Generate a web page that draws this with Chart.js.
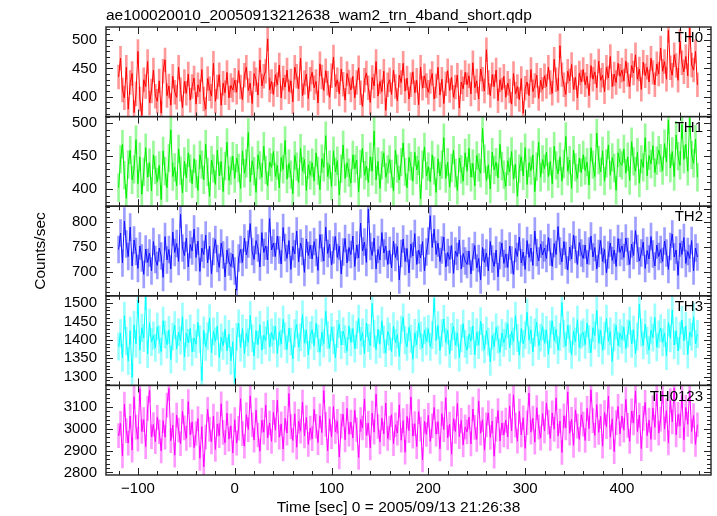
<!DOCTYPE html>
<html>
<head>
<meta charset="utf-8">
<script src="https://cdn.jsdelivr.net/npm/chart.js@4"></script>
<style>
  body { margin: 0; background: #fff; }
</style>
</head>
<body>
<canvas id="lc" width="717" height="516"></canvas>
<script>
// light curve, one band per panel (2 s bins starting at -120 s)
const bandNames = ["TH0", "TH1", "TH2", "TH3", "TH0123"];
const binStart = -120;
const binSize = 2;

const th0 = [
  435, 468, 412, 398, 452, 378, 425, 441, 372, 405, 480, 396, 367, 430, 418, 462, 389, 410, 447, 401,
  392, 428, 371, 445, 465, 402, 419, 385, 436, 408, 399, 452, 413, 381, 427, 406, 440, 394, 418, 433,
  387, 421, 409, 448, 396, 378, 432, 414, 401, 459, 392, 417, 439, 385, 424, 407, 443, 398, 420, 412,
  429, 408, 446, 417, 395, 438, 452, 411, 424, 388, 441, 430, 403, 465, 419, 436, 445, 502, 412, 427,
  404, 439, 421, 456, 398, 433, 417, 447, 409, 428, 391, 452, 436, 414, 468, 402, 425, 440, 397, 431,
  443, 416, 427, 389, 458, 435, 411, 446, 424, 399, 437, 470, 418, 430, 405, 449, 422, 394, 441, 426,
  412, 436, 398, 425, 451, 407, 383, 429, 442, 416, 390, 434, 419, 462, 401, 427, 409, 445, 376, 421,
  430, 404, 447, 418, 393, 438, 425, 459, 410, 433, 396, 421, 444, 407, 429, 386, 452, 415, 437, 420,
  408, 427, 441, 396, 419, 452, 403, 431, 388, 423, 446, 411, 434, 399, 417, 438, 380, 426, 414, 443,
  421, 437, 405, 460, 416, 428, 396, 449, 431, 410, 483, 425, 402, 439, 418, 447, 393, 430, 412, 436,
  399, 424, 410, 387, 441, 405, 418, 395, 432, 371, 415, 426, 402, 448, 409, 420, 438, 397, 429, 413,
  437, 418, 452, 425, 406, 466, 430, 411, 490, 439, 421, 404, 445, 428, 457, 413, 434, 398, 442, 426,
  448, 421, 436, 402, 455, 431, 444, 416, 463, 429, 438, 409, 452, 433, 471, 418, 440, 425, 459, 436,
  447, 428, 463, 439, 418, 455, 442, 474, 431, 449, 413, 461, 437, 452, 426, 468, 443, 421, 458, 440,
  486, 445, 462, 431, 517, 451, 438, 474, 455, 429, 498, 460, 444, 471, 437, 521, 456, 447, 480, 421
];
const th1 = [
  402, 445, 468, 421, 386, 437, 459, 414, 430, 475, 408, 449, 392, 426, 463, 418, 440, 397, 452, 429,
  411, 436, 384, 458, 427, 402, 447, 490, 419, 433, 405, 461, 428, 394, 442, 417, 455, 431, 408, 446,
  423, 398, 452, 437, 414, 468, 426, 389, 444, 431, 407, 459, 420, 442, 396, 435, 471, 413, 428, 450,
  416, 447, 432, 401, 458, 424, 439, 486, 411, 443, 427, 395, 452, 436, 418, 465, 429, 405, 441, 433,
  457, 419, 436, 402, 448, 430, 474, 415, 439, 422, 393, 451, 434, 410, 462, 427, 445, 398, 437, 421,
  440, 412, 455, 428, 399, 446, 433, 481, 419, 437, 404, 458, 426, 443, 391, 431, 467, 416, 440, 425,
  409, 452, 431, 444, 396, 438, 462, 421, 435, 410, 449, 427, 488, 414, 442, 401, 436, 455, 418, 430,
  445, 423, 397, 459, 431, 414, 441, 470, 426, 402, 448, 435, 412, 456, 429, 443, 385, 437, 464, 420,
  434, 411, 452, 428, 395, 446, 420, 437, 478, 416, 441, 403, 432, 459, 424, 398, 447, 430, 412, 455,
  427, 462, 418, 439, 405, 451, 433, 424, 492, 446, 413, 437, 400, 456, 429, 441, 417, 468, 435, 422,
  404, 443, 426, 457, 415, 438, 389, 431, 449, 420, 463, 407, 440, 428, 452, 396, 434, 471, 418, 445,
  431, 456, 419, 442, 408, 465, 436, 423, 449, 412, 438, 480, 427, 444, 401, 459, 433, 416, 447, 425,
  452, 428, 441, 406, 463, 437, 419, 485, 444, 426, 458, 412, 439, 467, 421, 448, 432, 398, 455, 440,
  436, 461, 424, 449, 413, 472, 442, 427, 456, 409, 445, 433, 478, 420, 451, 438, 466, 425, 443, 459,
  447, 428, 469, 441, 505, 432, 457, 419, 482, 450, 436, 498, 445, 468, 427, 508, 452, 439, 476, 418
];
const th2 = [
  745, 778, 718, 802, 756, 731, 790, 712, 764, 741, 707, 752, 728, 695, 746, 719, 738, 702, 761, 725,
  713, 748, 732, 689, 771, 724, 745, 706, 780, 739, 757, 721, 816, 748, 733, 768, 710, 755, 742, 786,
  729, 762, 701, 748, 735, 774, 718, 752, 696, 741, 765, 727, 709, 758, 734, 690, 744, 720, 711, 736,
  702, 663, 728, 745, 719, 768, 734, 756, 797, 741, 725, 763, 748, 710, 779, 739, 752, 724, 807, 744,
  758, 731, 772, 744, 716, 789, 749, 727, 763, 705, 751, 736, 782, 720, 758, 741, 699, 766, 733, 754,
  726, 761, 739, 703, 775, 748, 722, 790, 737, 756, 714, 744, 771, 729, 752, 696, 740, 767, 718, 749,
  735, 772, 711, 754, 728, 798, 742, 760, 719, 826, 751, 733, 768, 706, 745, 724, 779, 738, 752, 715,
  743, 708, 762, 729, 751, 684, 737, 766, 721, 747, 698, 756, 732, 777, 715, 744, 728, 761, 702, 740,
  762, 813, 749, 786, 735, 758, 721, 744, 770, 710, 739, 725, 753, 697, 742, 731, 764, 706, 737, 722,
  715, 742, 696, 730, 753, 708, 727, 684, 749, 719, 738, 702, 761, 726, 711, 744, 690, 733, 758, 717,
  736, 709, 752, 724, 695, 747, 731, 770, 718, 740, 705, 763, 729, 748, 713, 782, 739, 722, 756, 734,
  748, 727, 769, 740, 711, 757, 735, 791, 742, 720, 761, 733, 704, 750, 726, 774, 745, 715, 759, 738,
  727, 754, 716, 742, 772, 730, 749, 706, 737, 763, 721, 745, 698, 734, 758, 723, 744, 711, 767, 739,
  752, 729, 768, 741, 715, 756, 733, 783, 747, 722, 738, 760, 707, 743, 726, 771, 736, 712, 754, 731,
  745, 721, 762, 738, 705, 751, 776, 730, 744, 693, 758, 735, 769, 717, 741, 727, 763, 702, 748, 730
];
const th3 = [
  1382, 1418, 1351, 1466, 1397, 1342, 1425, 1298, 1441, 1389, 1508, 1372, 1433, 1405, 1519, 1361, 1447, 1394, 1412, 1378,
  1436, 1401, 1368, 1452, 1415, 1387, 1427, 1346, 1409, 1440, 1375, 1421, 1398, 1463, 1354, 1418, 1392, 1431, 1367, 1405,
  1388, 1447, 1402, 1289, 1426, 1381, 1410, 1459, 1365, 1423, 1396, 1438, 1352, 1407, 1384, 1429, 1370, 1416, 1343, 1395,
  1284, 1408, 1445, 1379, 1431, 1362, 1419, 1393, 1467, 1404, 1356, 1425, 1387, 1441, 1372, 1413, 1398, 1453, 1380, 1420,
  1401, 1437, 1363, 1422, 1389, 1456, 1410, 1374, 1432, 1395, 1348, 1418, 1442, 1380, 1407, 1469, 1391, 1426, 1359, 1412,
  1428, 1383, 1445, 1404, 1366, 1421, 1390, 1478, 1413, 1377, 1435, 1399, 1351, 1416, 1443, 1386, 1424, 1402, 1369, 1438,
  1393, 1431, 1376, 1414, 1458, 1397, 1420, 1362, 1446, 1405, 1384, 1499, 1417, 1373, 1429, 1388, 1452, 1401, 1364, 1423,
  1409, 1368, 1437, 1392, 1415, 1355, 1428, 1461, 1399, 1381, 1434, 1403, 1347, 1419, 1387, 1445, 1412, 1378, 1426, 1396,
  1430, 1381, 1413, 1513, 1398, 1440, 1371, 1418, 1457, 1393, 1426, 1362, 1408, 1437, 1385, 1419, 1352, 1404, 1444, 1389,
  1372, 1416, 1397, 1438, 1360, 1421, 1386, 1451, 1407, 1374, 1425, 1395, 1340, 1412, 1381, 1434, 1401, 1366, 1419, 1392,
  1410, 1444, 1378, 1423, 1396, 1466, 1405, 1358, 1431, 1389, 1413, 1475, 1399, 1427, 1367, 1420, 1448, 1384, 1406, 1436,
  1391, 1427, 1361, 1415, 1452, 1398, 1429, 1372, 1408, 1502, 1417, 1383, 1440, 1403, 1359, 1424, 1395, 1455, 1379, 1414,
  1420, 1387, 1446, 1402, 1365, 1433, 1412, 1480, 1391, 1426, 1371, 1411, 1458, 1396, 1423, 1341, 1407, 1439, 1384, 1418,
  1401, 1435, 1376, 1417, 1452, 1389, 1428, 1363, 1409, 1497, 1420, 1385, 1443, 1398, 1372, 1426, 1406, 1461, 1380, 1415,
  1432, 1393, 1419, 1356, 1447, 1404, 1481, 1386, 1425, 1370, 1412, 1454, 1397, 1438, 1360, 1421, 1408, 1463, 1389, 1416
];
const th0123 = [
  2968, 3024, 2875, 3112, 2991, 2934, 3058, 2902, 3146, 3007, 2952, 3183, 2987, 3041, 2918, 3093, 3176, 2963, 3019, 2941,
  3052, 2986, 2898, 3037, 2961, 3108, 3184, 2945, 3016, 2879, 3062, 2993, 2931, 3079, 3004, 2956, 3124, 2972, 3031, 2913,
  2978, 3046, 2864, 3009, 2825, 2962, 3088, 2997, 2940, 3057, 2905, 3021, 2968, 3114, 2983, 2936, 3071, 2952, 3013, 2889,
  3041, 2934, 3002, 3137, 2977, 2920, 3064, 2996, 3150, 3018, 2948, 3085, 2971, 2897, 3039, 2984, 3108, 2958, 3026, 2942,
  3075, 2993, 3130, 2961, 3022, 2907, 3047, 2980, 3161, 3009, 2946, 3068, 2915, 3034, 2989, 3122, 2967, 3051, 2928, 3003,
  2954, 3088, 3011, 2936, 3059, 2982, 3174, 3020, 2899, 3045, 2963, 3101, 2986, 3034, 2871, 3012, 3066, 2949, 3093, 2975,
  3030, 2957, 3084, 2995, 2868, 3042, 3003, 3136, 2969, 3025, 2912, 3071, 2984, 3158, 3010, 2939, 3048, 2976, 3117, 2955,
  3003, 3064, 2931, 3018, 2980, 3109, 2947, 3037, 2892, 3056, 2991, 3145, 2966, 3023, 2918, 3078, 2998, 2857, 3033, 2974,
  3061, 2942, 3013, 3097, 2975, 3032, 2908, 3069, 2996, 3142, 2958, 3021, 2883, 3046, 2987, 3115, 2964, 3038, 2926, 3008,
  2985, 3053, 2930, 3090, 3006, 2951, 3127, 2979, 3041, 2902, 3017, 3072, 2960, 3035, 2874, 2998, 3083, 2944, 3026, 2971,
  3039, 2962, 3104, 2990, 3155, 3016, 2943, 3080, 2972, 3050, 2910, 3027, 3163, 2984, 3048, 2938, 3096, 3007, 2957, 3069,
  2989, 3118, 3030, 2955, 3072, 2997, 3141, 2966, 3035, 2891, 3059, 3004, 3168, 2979, 3043, 2924, 3086, 3012, 2951, 3064,
  3021, 2946, 3093, 3000, 3178, 3037, 2969, 3110, 2983, 3056, 2920, 3074, 3009, 3149, 2961, 3045, 2895, 3028, 3102, 2976,
  3058, 2993, 3134, 3015, 2942, 3081, 3026, 3172, 2987, 3062, 2909, 3047, 3120, 2968, 3039, 2951, 3095, 3006, 3160, 2980,
  3044, 3171, 2998, 3083, 2935, 3129, 3031, 3186, 2972, 3065, 3013, 3152, 2949, 3097, 3020, 3175, 2987, 3060, 2928, 3018
];
// 1-sigma error per band (counts/sec)
const rateErr = [21, 21, 27, 37, 55];

// axis ranges and tick labels
const yMin = [365, 374, 652, 1276, 2788];
const yMax = [523, 510, 832, 1520, 3198];
const yTicks = [
  [400, 450, 500],
  [400, 450, 500],
  [700, 750, 800],
  [1300, 1350, 1400, 1450, 1500],
  [2800, 2900, 3000, 3100]
];
const yMinor = [10, 10, 10, 10, 20];
const xMin = -133, xMax = 492;
const xTicks = [-100, 0, 100, 200, 300, 400];
const xMinor = 20;
const xTitle = "Time [sec] 0 = 2005/09/13 21:26:38";

const lineColors = ["#ff0000", "#00f000", "#1010ff", "#00ffff", "#ff00ff"];
const errColors = ["rgba(255,0,0,0.4)", "rgba(0,240,0,0.4)", "rgba(16,16,255,0.4)",
                   "rgba(0,255,255,0.4)", "rgba(255,0,255,0.4)"];

Chart.defaults.font.family = "'Liberation Sans', Arial, sans-serif";
Chart.defaults.color = "#000";

const series = [th0, th1, th2, th3, th0123];
const datasets = [];
series.forEach((vals, i) => {
  datasets.push({
    type: "line",
    label: bandNames[i],
    xAxisID: "x",
    yAxisID: "y" + i,
    data: vals.map((v, k) => ({ x: binStart + k * binSize, y: v })),
    borderColor: lineColors[i],
    borderWidth: 1,
    pointRadius: 0,
    tension: 0,
    order: 0
  });
  datasets.push({
    type: "bar",
    label: bandNames[i] + " err",
    xAxisID: "x",
    yAxisID: "y" + i,
    data: vals.map((v, k) => ({ x: binStart + k * binSize, y: [v - rateErr[i], v + rateErr[i]] })),
    backgroundColor: errColors[i],
    barThickness: 2,
    grouped: false,
    order: 1
  });
});

const scales = {
  x: {
    type: "linear",
    position: "bottom",
    offset: false,
    min: xMin,
    max: xMax,
    grid: { display: false, drawTicks: false, offset: false },
    border: { display: false },
    afterBuildTicks: s => { s.ticks = xTicks.map(v => ({ value: v })); },
    afterFit: s => { s.height = 41; },
    ticks: {
      padding: 5,
      maxRotation: 0,
      autoSkip: false,
      font: { size: 15 },
      callback: v => String(v).replace("-", "\u2212")
    }
  }
};
bandNames.forEach((name, i) => {
  scales["y" + i] = {
    type: "linear",
    position: "left",
    stack: "bands",
    stackWeight: 1,
    weight: 5 - i,
    min: yMin[i],
    max: yMax[i],
    grid: { display: false, drawTicks: false },
    border: { display: false },
    afterBuildTicks: s => { s.ticks = yTicks[i].map(v => ({ value: v })); },
    afterFit: s => { s.width = 106; },
    ticks: { padding: 9, autoSkip: false, font: { size: 15 }, callback: v => String(v) },
    title: {
      display: i === 2,
      text: "Counts/sec",
      font: { size: 15.5 },
      padding: { top: 31, bottom: 0 }
    }
  };
});

// PGPLOT-style frame with inward ticks on every panel, band labels and the time label
const framePlugin = {
  id: "frame",
  afterDatasetsDraw(chart) {
    const ctx = chart.ctx;
    const ca = chart.chartArea;
    const xs = chart.scales.x;
    ctx.save();
    bandNames.forEach((name, i) => {
      const ys = chart.scales["y" + i];
      const top = ys.top, bot = ys.bottom;
      ctx.strokeStyle = "#222";
      ctx.lineWidth = 1;
      ctx.beginPath();
      for (let t = Math.ceil(xMin / xMinor) * xMinor; t <= xMax; t += xMinor) {
        const px = Math.round(xs.getPixelForValue(t)) + 0.5;
        const len = xTicks.includes(t) ? 7 : 4;
        ctx.moveTo(px, top); ctx.lineTo(px, top + len);
        ctx.moveTo(px, bot); ctx.lineTo(px, bot - len);
      }
      const step = yMinor[i];
      for (let v = Math.ceil(yMin[i] / step) * step; v <= yMax[i]; v += step) {
        const py = Math.round(ys.getPixelForValue(v)) + 0.5;
        const len = yTicks[i].includes(v) ? 7 : 4;
        ctx.moveTo(ca.left, py); ctx.lineTo(ca.left + len, py);
        ctx.moveTo(ca.right, py); ctx.lineTo(ca.right - len, py);
      }
      ctx.stroke();
      ctx.lineWidth = 1.4;
      ctx.strokeRect(ca.left, top, ca.right - ca.left, bot - top);
      ctx.fillStyle = "#000";
      ctx.font = "15px 'Liberation Sans', Arial, sans-serif";
      ctx.textAlign = "right";
      ctx.textBaseline = "middle";
      ctx.fillText(name, ca.right - 8, top + 11);
    });
    // axis label sits a little left of the panel centre, as in the original plot
    ctx.font = "15.5px 'Liberation Sans', Arial, sans-serif";
    ctx.textAlign = "center";
    ctx.textBaseline = "middle";
    ctx.fillText(xTitle, (ca.left + ca.right) / 2 - 10, xs.bottom - 8);
    ctx.restore();
  }
};

new Chart(document.getElementById("lc"), {
  type: "line",
  data: { datasets: datasets },
  plugins: [framePlugin],
  options: {
    responsive: false,
    animation: false,
    layout: { padding: { left: 0, right: 6, top: 0, bottom: 0 } },
    scales: scales,
    plugins: {
      legend: { display: false },
      tooltip: { enabled: false },
      title: {
        display: true,
        text: "ae100020010_20050913212638_wam2_trn_4band_short.qdp",
        align: "start",
        fullSize: false,
        color: "#000",
        font: { size: 15.5, weight: "normal" },
        padding: { top: 6, bottom: 2.4 }
      }
    }
  }
});
</script>
</body>
</html>
